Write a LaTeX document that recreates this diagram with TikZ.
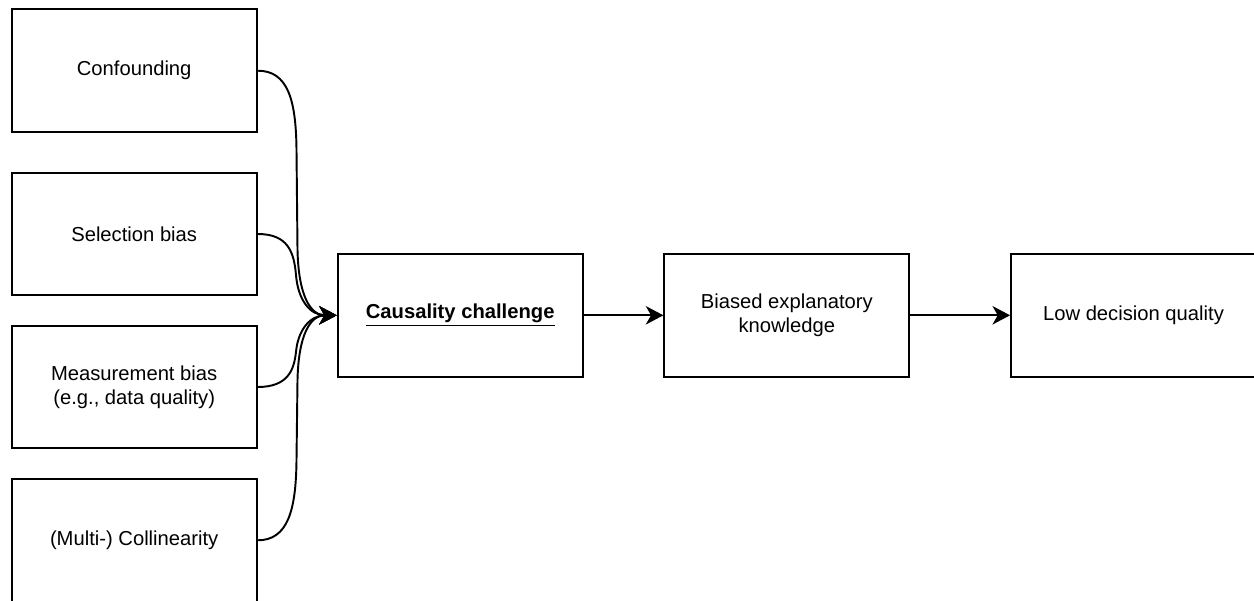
\documentclass[tikz,border=0pt]{standalone}
\usepackage{fontspec}
\setmainfont{Liberation Sans}
\usetikzlibrary{arrows.meta}
\begin{document}
\begin{tikzpicture}[x=0.02cm,y=-0.02cm,
  box/.style={draw=black,line width=1.1pt,minimum width=4.9cm,minimum height=2.45cm,
    align=center,inner sep=2pt,font=\fontsize{11.5}{13.5}\selectfont},
  link/.style={line width=1.1pt,-{Stealth[length=10pt,width=10.5pt,inset=3pt]}}]
\useasboundingbox (0,0) rectangle (1254,601);
\clip (0,0) rectangle (1254,601);
% causes
\node[box] (conf) at (134.2,70.7) {Confounding};
\node[box] (sel) at (134.2,234) {Selection bias};
\node[box] (meas) at (134.2,387) {Measurement bias\\(e.g., data quality)};
\node[box] (coll) at (134.2,540.3) {(Multi-) Collinearity};
% chain
\node[box] (cause) at (460.2,315.3) {\underline{\textbf{Causality challenge}}};
\node[box] (biased) at (786.8,315.3) {Biased explanatory\\knowledge};
\node[box] (low) at (1133.5,315.3) {Low decision quality};
% curved links into the challenge
\draw[link] (conf.east) .. controls (288,70.7) and (296,100) .. (296.5,150)
  -- (297.5,250) .. controls (298.5,295) and (310,315.3) .. (cause.west);
\draw[link] (sel.east) .. controls (288,234) and (294,252) .. (296,275)
  .. controls (298,300) and (310,315.3) .. (cause.west);
\draw[link] (meas.east) .. controls (288,387) and (294,370) .. (296,352)
  .. controls (298,330) and (310,315.3) .. (cause.west);
\draw[link] (coll.east) .. controls (288,540.3) and (296,510) .. (296.5,460)
  -- (297.5,380) .. controls (298.5,335) and (310,315.3) .. (cause.west);
% straight links
\draw[link] (cause.east) -- (biased.west);
\draw[link] (biased.east) -- (low.west);
\end{tikzpicture}
\end{document}
